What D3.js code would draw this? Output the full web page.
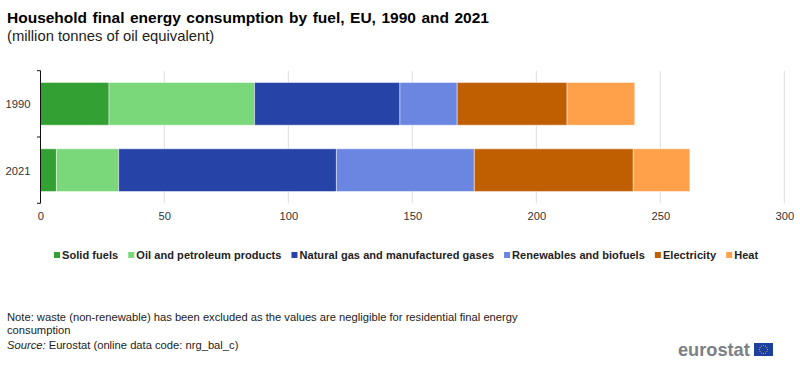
<!DOCTYPE html>
<html><head><meta charset="utf-8">
<script src="https://cdn.jsdelivr.net/npm/d3@7"></script>
<style>html,body{margin:0;padding:0;background:#fff}svg{display:block;opacity:.999}text{font-family:"Liberation Sans",Arial,sans-serif}</style>
</head><body><svg id="c" width="800" height="373"></svg>
<script>
const years = ["1990","2021"];
const fuels = ["Solid fuels","Oil and petroleum products","Natural gas and manufactured gases","Renewables and biofuels","Electricity","Heat"];
const colors = ["#33a033","#7ad77a","#2644a7","#6b86e0","#c05f02","#ffa04a"];
const values1990 = [27.7,58.7,58.6,23.1,44.3,27.3];
const values2021 = [6.5,25.1,87.8,55.6,64.1,22.8];
const xTicks = [0,50,100,150,200,250,300];

const svg = d3.select("#c");
const x = d3.scaleLinear().domain([0,300]).range([40.3,784.3]);
const y = d3.scaleBand().domain(years).range([70.7,203.3]).paddingInner(0.356).paddingOuter(0.178);

svg.append("text").attr("x",7).attr("y",23).attr("font-size",15.5).attr("font-weight","bold").attr("fill","#000").attr("word-spacing",1.2)
  .text("Household final energy consumption by fuel, EU, 1990 and 2021");
svg.append("text").attr("x",7).attr("y",41).attr("font-size",14.8).attr("fill","#222")
  .text("(million tonnes of oil equivalent)");

svg.append("g").selectAll("line").data(xTicks.slice(1)).join("line")
  .attr("x1",d=>x(d)).attr("x2",d=>x(d)).attr("y1",70.7).attr("y2",203.3)
  .attr("stroke","#dedede").attr("stroke-width",1);

const rows = [values1990,values2021];
rows.forEach((vals,r)=>{
  let acc=0;
  vals.forEach((v,i)=>{
    svg.append("rect").attr("x",x(acc)).attr("y",y(years[r]))
      .attr("width",x(acc+v)-x(acc)).attr("height",y.bandwidth())
      .attr("fill",colors[i]).attr("stroke","#fff").attr("stroke-opacity",0.45).attr("stroke-width",1);
    acc+=v;
  });
});

const xAxis = svg.append("g").attr("transform","translate(0,203.3)")
  .call(d3.axisBottom(x).tickValues(xTicks).tickSize(0).tickPadding(9));
xAxis.select(".domain").remove();
xAxis.selectAll("text").attr("font-size",11.2).attr("fill","#333").style("font-family",'"Liberation Sans",Arial,sans-serif');

const yAxis = svg.append("g").attr("transform","translate(39.5,1)")
  .call(d3.axisLeft(y).tickSize(0).tickPadding(9));
yAxis.select(".domain").remove();
yAxis.selectAll("text").attr("font-size",11.2).attr("fill","#333").style("font-family",'"Liberation Sans",Arial,sans-serif');
svg.append("line").attr("x1",40.5).attr("x2",40.5).attr("y1",70.7).attr("y2",203.3).attr("stroke","#111");
[70.7,137,203.3].forEach(t=>svg.append("line").attr("x1",37).attr("x2",40.5).attr("y1",t).attr("y2",t).attr("stroke","#111"));

let lx = 54;
const lg = svg.append("g");
fuels.forEach((f,i)=>{
  lg.append("rect").attr("x",lx).attr("y",252).attr("width",6).attr("height",6).attr("fill",colors[i]);
  const t = lg.append("text").attr("x",lx+8).attr("y",259).attr("font-size",11).attr("font-weight","bold").attr("fill","#222").attr("letter-spacing",0.06).text(f);
  lx += 8 + t.node().getComputedTextLength() + 10;
});

const note = svg.append("g").attr("font-size",11.2).attr("fill","#222");
note.append("text").attr("x",7).attr("y",321).text("Note: waste (non-renewable) has been excluded as the values are negligible for residential final energy");
note.append("text").attr("x",7).attr("y",334).text("consumption");
const src = note.append("text").attr("x",7).attr("y",349);
src.append("tspan").attr("font-style","italic").text("Source:");
src.append("tspan").text(" Eurostat (online data code: nrg_bal_c)");

svg.append("text").attr("x",678).attr("y",356).attr("font-size",18.2).attr("font-weight","bold").attr("fill","#7b7f86").text("eurostat");
svg.append("rect").attr("x",754).attr("y",343).attr("width",19).attr("height",13).attr("fill","#1f3f9e");
d3.range(12).forEach(i=>{
  const a=i*Math.PI/6;
  svg.append("circle").attr("cx",763.5+4*Math.cos(a)).attr("cy",349.5+4*Math.sin(a)).attr("r",0.5).attr("fill","#d8c94a");
});
</script></body></html>
